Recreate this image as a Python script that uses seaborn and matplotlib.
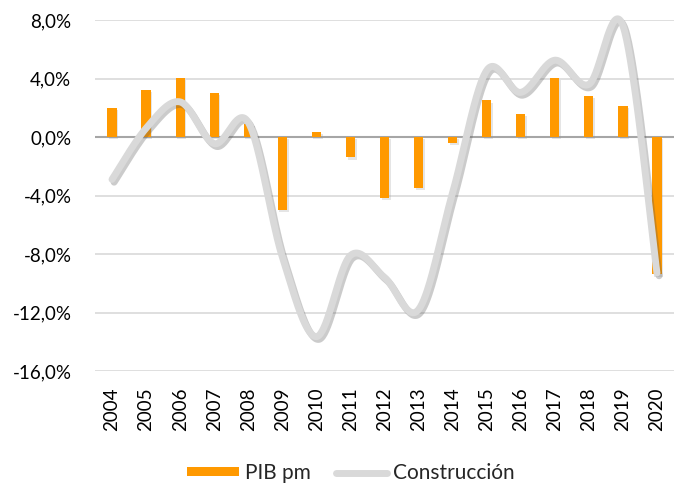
import numpy as np
import pandas as pd
import matplotlib
matplotlib.use("Agg")
import matplotlib.pyplot as plt
import matplotlib.patheffects as pe
from matplotlib.patches import Patch
from matplotlib.lines import Line2D
from matplotlib.ticker import FuncFormatter
import seaborn as sns

years = [str(y) for y in range(2004, 2021)]
pib_pm = [2.0, 3.2, 4.05, 3.0, 0.9, -5.0, 0.35, -1.4, -4.15, -3.5, -0.4,
          2.5, 1.55, 4.05, 2.8, 2.1, -9.4]
construccion = [-2.9, 0.6, 2.4, -0.45, 1.0, -8.2, -13.65, -8.1, -9.6, -11.8,
                -3.8, 4.55, 3.05, 5.25, 3.6, 7.6, -9.3]
y_ticks = [-16, -12, -8, -4, 0, 4, 8]

sns.set_theme(style="white")
plt.rcParams['font.family'] = ['Lato', 'DejaVu Sans']

fig = plt.figure(figsize=(6.74, 4.87), dpi=100)
ax = fig.add_axes([95 / 674, 1 - 371 / 487, 579 / 674, 351 / 487])

df = pd.DataFrame({"year": years, "pib": pib_pm, "cons": construccion})

sns.barplot(data=df, x="year", y="pib", color="#FF9900", saturation=1,
            width=0.27, ax=ax, zorder=3, linewidth=0, edgecolor="none")
for p in ax.patches:
    p.set_linewidth(0)
    p.set_path_effects([pe.SimplePatchShadow(offset=(1.2, -1.5), shadow_rgbFace="#999999", alpha=0.25),
                        pe.Normal()])


def smooth(xv, yv, n=40):
    P = np.column_stack([xv, yv]).astype(float)
    pts = []
    m = len(P)
    for i in range(m - 1):
        p0 = P[i - 1] if i > 0 else P[i]
        p1 = P[i]
        p2 = P[i + 1]
        p3 = P[i + 2] if i + 2 < m else P[i + 1]
        b1 = p1 + (p2 - p0) / 6.0
        b2 = p2 - (p3 - p1) / 6.0
        t = np.linspace(0, 1, n, endpoint=(i == m - 2))[:, None]
        seg = ((1 - t) ** 3) * p1 + 3 * ((1 - t) ** 2) * t * b1 + 3 * (1 - t) * t ** 2 * b2 + t ** 3 * p2
        pts.append(seg)
    pts = np.vstack(pts)
    return pts[:, 0], pts[:, 1]


xs, ys = smooth(np.arange(len(years)), df["cons"].values)
sns.lineplot(x=xs, y=ys, sort=False, color="#D9D9D9", linewidth=5, ax=ax,
             zorder=4, solid_capstyle="round", clip_on=False,
             path_effects=[pe.SimpleLineShadow(offset=(1.5, -2), shadow_color="#555555", alpha=0.3),
                           pe.Normal()])

ax.set_xlim(-0.5, len(years) - 0.5)
ax.set_ylim(-16, 8)
ax.set_yticks(y_ticks)
ax.yaxis.set_major_formatter(FuncFormatter(lambda v, _: f"{v:.1f}%".replace(".", ",")))
ax.grid(axis="y", color="#D9D9D9", linewidth=1.2, zorder=0)
ax.grid(axis="x", visible=False)
ax.axhline(0, color="#A6A6A6", linewidth=1.5, zorder=2)
for s in ax.spines.values():
    s.set_visible(False)
ax.set_xlabel("")
ax.set_ylabel("")
ax.tick_params(axis="y", length=0, pad=17, labelsize=13.5, colors="#000000")
ax.tick_params(axis="x", length=0, pad=12, labelsize=13.5, colors="#000000", rotation=90)

handles = [Patch(facecolor="#FF9900", edgecolor="none", label="PIB pm"),
           Line2D([], [], color="#D9D9D9", linewidth=5, solid_capstyle="round", label="Construcción")]
fig.legend(handles=handles, loc="center", bbox_to_anchor=(351 / 674, 1 - 473 / 487), ncol=2,
           frameon=False, fontsize=15, handlelength=2.45, handleheight=0.35,
           handletextpad=0.3, columnspacing=1.2)

fig.savefig("out.png", dpi=100)
